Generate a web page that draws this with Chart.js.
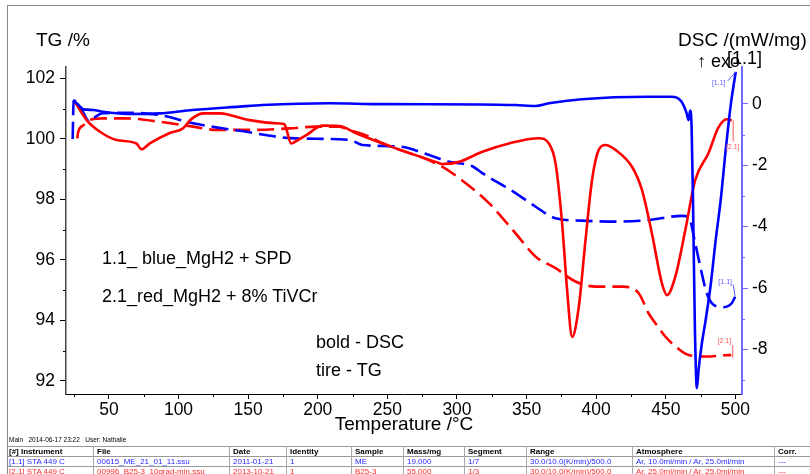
<!DOCTYPE html>
<html>
<head>
<meta charset="utf-8">
<title>STA MgH2 - TG / DSC</title>
<script src="https://cdn.jsdelivr.net/npm/chart.js@4.4.1/dist/chart.umd.min.js"></script>
<style>
  body { margin: 0; background: #fff; font-family: Arial, "Liberation Sans", sans-serif; }
  #wrap { position: relative; width: 810px; height: 474px; overflow: hidden; }
  #chart { position: absolute; left: 0; top: 0; }
  .lbl { position: absolute; white-space: nowrap; line-height: 1; color: #000; }
  .frame { position: absolute; left: 7px; top: 5px; width: 820px; height: 480px; border-left: 1px solid #888; border-top: 1px solid #888; }
  .hl { position: absolute; left: 7px; width: 810px; height: 0; border-top: 1px solid #999; }
  .vl { position: absolute; width: 0; border-left: 1px solid #aaa; }
  .cell { position: absolute; white-space: nowrap; line-height: 1; font-size: 8px; }
</style>
</head>
<body>
<div id="wrap">
  <div class="frame"></div>
  <canvas id="chart" width="810" height="474"></canvas>
  <div class="lbl" style="left:36px;top:30px;font-size:19px;">TG /%</div>
  <div class="lbl" style="left:678px;top:30px;font-size:19px;">DSC /(mW/mg)</div>
  <div class="lbl" style="left:697px;top:52px;font-size:18px;">↑ exo</div>
  <div class="lbl" style="left:727px;top:49px;font-size:18px;">[1.1]</div>
  <div class="lbl" style="left:102px;top:249px;font-size:18px;">1.1_ blue_MgH2 + SPD</div>
  <div class="lbl" style="left:102px;top:287px;font-size:18px;">2.1_red_MgH2 + 8% TiVCr</div>
  <div class="lbl" style="left:316px;top:333px;font-size:18px;">bold - DSC</div>
  <div class="lbl" style="left:316px;top:361px;font-size:18px;">tire - TG</div>
  <div id="table"></div>
</div>
<script>
// [1.1] blue, DSC (solid, right axis)
const blueDscT = [24, 26.9, 31.6, 38.7, 45.9, 62.7, 86.5, 110.2, 143.9, 160.3, 208.4, 244.2, 315.8, 342.1, 356.5, 366, 389.6, 437.6, 454.1, 461.3, 464.9, 466.3, 467.5, 468.5, 469.5, 470.9, 472.3, 473.5, 475.7, 478.6, 482.2, 485.8, 489.4, 493, 496.6, 500.2];
const blueDsc = [0.10, 0.02, -0.18, -0.20, -0.26, -0.33, -0.31, -0.20, -0.09, -0.04, 0.02, -0.01, -0.02, -0.04, -0.07, 0.02, 0.15, 0.23, 0.23, 0.07, -0.30, -0.53, -0.22, -0.75, -3.14, -7.37, -9.26, -8.67, -7.86, -7.04, -5.90, -4.44, -3.13, -1.50, -0.04, 1.04];

// [1.1] blue, TG (dashed, left axis)
const blueTgT = [24, 24.3, 24.6, 28, 36.4, 38.8, 45.9, 62.7, 86.5, 110.4, 143.9, 184.5, 222.7, 232.2, 258.5, 280, 294.3, 311, 318.2, 342.1, 356.5, 370.8, 389.9, 413.8, 437.6, 461.5, 466.3, 471.1, 475.8, 479.4, 484.2, 491.4, 497.3, 499.8];
const blueTg = [100.0, 100.7, 101.27, 101.18, 100.57, 100.68, 100.85, 100.87, 100.79, 100.52, 100.27, 100.02, 99.97, 99.80, 99.75, 99.47, 99.25, 99.10, 98.87, 98.21, 97.76, 97.38, 97.30, 97.27, 97.32, 97.46, 97.43, 96.55, 95.56, 94.90, 94.52, 94.44, 94.57, 94.79];

// [2.1] red, DSC (solid, right axis)
const redDscT = [25.6, 34, 43.6, 55.5, 69.8, 73.4, 79.4, 93.7, 103.2, 108, 113, 117.6, 129.5, 136.7, 151, 172.5, 176, 177.3, 180.9, 184.7, 191.7, 203.6, 215.5, 227.5, 256.1, 284.8, 289.5, 301.5, 318.2, 337.3, 358.8, 366, 370.8, 375.5, 379.1, 382.7, 387.5, 392.3, 397, 401.8, 406.6, 413.8, 425.7, 432.9, 440, 447.2, 450.8, 456.8, 464, 471.1, 480.6, 487.8, 493.7, 497.3];
const redDsc = [0.07, -0.53, -0.91, -1.18, -1.29, -1.48, -1.29, -0.95, -0.80, -0.55, -0.38, -0.31, -0.31, -0.36, -0.53, -0.64, -0.66, -0.80, -1.29, -1.21, -1.02, -0.71, -0.72, -0.96, -1.45, -1.89, -1.96, -1.89, -1.56, -1.29, -1.12, -1.29, -1.94, -3.89, -6.07, -7.59, -6.61, -4.44, -2.48, -1.50, -1.34, -1.50, -2.05, -2.81, -4.22, -5.85, -6.23, -5.63, -4.11, -2.48, -1.61, -0.77, -0.50, -0.54];

// [2.1] red, TG (dashed, left axis)
const redTgT = [27.3, 28, 31.6, 36.4, 45.9, 62.7, 86.5, 110.4, 127.2, 151, 179.7, 198.8, 215.5, 222.7, 237, 246.5, 256.1, 287.2, 306.3, 323, 342.1, 356.5, 370.8, 385.1, 399.5, 418.5, 430.5, 437.6, 442.5, 449.6, 454.3, 466.3, 478.3, 492.6, 497];
const redTg = [100.02, 100.24, 100.45, 100.63, 100.68, 100.68, 100.57, 100.41, 100.30, 100.30, 100.35, 100.41, 100.41, 100.30, 100.08, 99.86, 99.69, 99.14, 98.54, 97.88, 96.88, 96.11, 95.73, 95.29, 95.12, 95.12, 94.90, 94.24, 93.91, 93.47, 93.25, 92.86, 92.81, 92.85, 92.86];

const xTicks = [50, 100, 150, 200, 250, 300, 350, 400, 450, 500];
const xMinor = [25, 75, 125, 175, 225, 275, 325, 375, 425, 475];
const tgTicks = [92, 94, 96, 98, 100, 102];
const tgMinor = [93, 95, 97, 99, 101];
const dscTicks = [-8, -6, -4, -2, 0];
const dscMinor = [-9, -7, -5, -3, -1];

const tableHead = ['[#] Instrument', 'File', 'Date', 'Identity', 'Sample', 'Mass/mg', 'Segment', 'Range', 'Atmosphere', 'Corr.'];
const tableRow1 = ['[1.1] STA 449 C', '00615_ME_21_01_11.ssu', '2011-01-21', '1', 'ME', '19.000', '1/7', '30.0/10.0(K/min)/500.0', 'Ar, 10.0ml/min / Ar, 25.0ml/min', '---'];
const tableRow2 = ['[2.1] STA 449 C', '00996_B25-3_10grad-min.ssu', '2013-10-21', '1', 'B25-3', '55.000', '1/3', '30.0/10.0(K/min)/500.0', 'Ar, 25.0ml/min / Ar, 25.0ml/min', '---'];
const tableCols = [9, 97, 233, 290, 355, 407, 468, 530, 636, 778];

const BLUE = '#0000ff';
const RED = '#ff0000';
const FONT = 'Arial, "Liberation Sans", sans-serif';
Chart.defaults.font.family = FONT;

const pts = (xs, ys) => xs.map((x, i) => ({ x, y: ys[i] }));

// small ticks between the labelled ones
const minorTicks = {
  id: 'minorTicks',
  afterDraw(chart) {
    const { ctx, scales } = chart;
    ctx.save();
    ctx.lineWidth = 1;
    ctx.strokeStyle = '#000';
    ctx.beginPath();
    xMinor.forEach(v => {
      const p = Math.round(scales.x.getPixelForValue(v)) + 0.5;
      ctx.moveTo(p, scales.x.top); ctx.lineTo(p, scales.x.top + 3);
    });
    tgMinor.forEach(v => {
      const p = Math.round(scales.y.getPixelForValue(v)) + 0.5;
      ctx.moveTo(scales.y.right, p); ctx.lineTo(scales.y.right - 3, p);
    });
    ctx.stroke();
    ctx.strokeStyle = '#6b6bff';
    ctx.beginPath();
    dscMinor.forEach(v => {
      const p = Math.round(scales.y2.getPixelForValue(v)) + 0.5;
      ctx.moveTo(scales.y2.left, p); ctx.lineTo(scales.y2.left + 3, p);
    });
    ctx.stroke();
    ctx.restore();
  }
};

// "[1.1]" / "[2.1]" tags at the curve ends
const curveTags = {
  id: 'curveTags',
  afterDatasetsDraw(chart) {
    const ctx = chart.ctx;
    ctx.save();
    ctx.font = '7px ' + FONT;
    ctx.textBaseline = 'middle';
    ctx.textAlign = 'center';
    ctx.lineWidth = 1;
    chart.data.datasets.forEach((ds, i) => {
      const t = ds.tag;
      if (!t) return;
      const el = chart.getDatasetMeta(i).data;
      const end = el[el.length - 1];
      ctx.strokeStyle = ctx.fillStyle = t.color;
      ctx.beginPath();
      ctx.moveTo(end.x + t.line[0], end.y + t.line[1]);
      ctx.lineTo(end.x + t.line[2], end.y + t.line[3]);
      ctx.stroke();
      ctx.fillText(t.text, end.x + t.dx, end.y + t.dy);
    });
    ctx.restore();
  }
};

new Chart(document.getElementById('chart').getContext('2d'), {
  type: 'line',
  data: {
    datasets: [
      { label: '[1.1] DSC', data: pts(blueDscT, blueDsc), yAxisID: 'y2', borderColor: BLUE, borderWidth: 2.6, order: 0,
        tag: { text: '[1.1]', color: '#5a5aff', dx: -17, dy: 11, line: [-8, 9, 0, 0] } },
      { label: '[2.1] DSC', data: pts(redDscT, redDsc), yAxisID: 'y2', borderColor: RED, borderWidth: 2.6, order: 1,
        tag: { text: '[2.1]', color: '#ff5a5a', dx: 1, dy: 27, line: [1.5, 0, 1.5, 21] } },
      { label: '[1.1] TG', data: pts(blueTgT, blueTg), yAxisID: 'y', borderColor: BLUE, borderWidth: 2.6, borderDash: [17, 7], order: 2,
        tag: { text: '[1.1]', color: '#5a5aff', dx: -10, dy: -15, line: [-2, -12, 0, 0] } },
      { label: '[2.1] TG', data: pts(redTgT, redTg), yAxisID: 'y', borderColor: RED, borderWidth: 2.6, borderDash: [17, 7], order: 3,
        tag: { text: '[2.1]', color: '#ff5a5a', dx: -7, dy: -14, line: [1.5, -10, 1.5, 3] } }
    ]
  },
  options: {
    responsive: false,
    animation: false,
    devicePixelRatio: 1,
    layout: { padding: { top: 67, left: 0, right: 0, bottom: 0 } },
    elements: { point: { radius: 0 }, line: { cubicInterpolationMode: 'monotone', fill: false } },
    plugins: { legend: { display: false }, tooltip: { enabled: false } },
    scales: {
      x: {
        type: 'linear', position: 'bottom', min: 19.2, max: 504.7,
        afterBuildTicks: s => { s.ticks = xTicks.map(v => ({ value: v })); },
        afterFit: s => { s.height = 80; },
        grid: { drawOnChartArea: false, drawTicks: true, tickLength: 5, tickColor: '#000' },
        border: { display: true, color: '#000', width: 1 },
        ticks: { color: '#000', font: { size: 17.5 }, padding: 1, maxRotation: 0, autoSkip: false },
        title: { display: true, text: 'Temperature /°C', color: '#000', font: { size: 19 }, padding: { top: 0, bottom: 38 } }
      },
      y: {
        type: 'linear', position: 'left', min: 91.57, max: 102.38,
        afterBuildTicks: s => { s.ticks = tgTicks.map(v => ({ value: v })); },
        afterFit: s => { s.width = 66; },
        grid: { drawOnChartArea: false, drawTicks: true, tickLength: 6, tickColor: '#000' },
        border: { display: true, color: '#444', width: 1.5 },
        ticks: { color: '#000', font: { size: 17.5 }, padding: 5 }
      },
      y2: {
        type: 'linear', position: 'right', min: -9.45, max: 1.2,
        afterBuildTicks: s => { s.ticks = dscTicks.map(v => ({ value: v })); },
        afterFit: s => { s.width = 68; },
        grid: { drawOnChartArea: false, drawTicks: true, tickLength: 6, tickColor: '#6b6bff' },
        border: { display: true, color: '#6b6bff', width: 2 },
        ticks: { color: '#000', font: { size: 17.5 }, padding: 4 }
      }
    }
  },
  plugins: [minorTicks, curveTags]
});

// instrument table under the plot
const tbl = document.getElementById('table');
let html = '<div class="cell" style="left:9px;top:437px;font-size:6.5px;">Main &nbsp; 2014-06-17 23:22 &nbsp; User: Nathalie</div>';
[446, 456, 466].forEach(y => { html += `<div class="hl" style="top:${y}px"></div>`; });
tableCols.slice(1).forEach(x => { html += `<div class="vl" style="left:${x - 4}px;top:446px;height:30px"></div>`; });
const rows = [[tableHead, '#000', 'bold', 448], [tableRow1, '#2a2aff', 'normal', 458], [tableRow2, '#ff2a2a', 'normal', 468]];
rows.forEach(([cells, color, weight, top]) => {
  cells.forEach((c, i) => {
    html += `<div class="cell" style="left:${tableCols[i]}px;top:${top}px;color:${color};font-weight:${weight}">${c}</div>`;
  });
});
tbl.innerHTML = html;
</script>
</body>
</html>
